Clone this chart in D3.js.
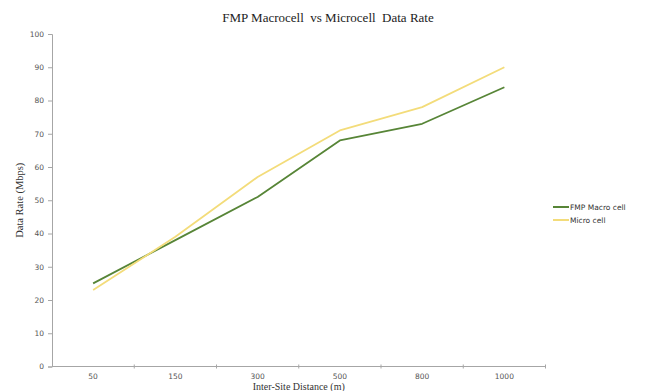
<!DOCTYPE html>
<html>
<head>
<meta charset="utf-8">
<script src="https://cdn.jsdelivr.net/npm/d3@7"></script>
<style>
  html, body { margin: 0; padding: 0; background: #fff; }
  svg { display: block; }
</style>
</head>
<body>
<svg id="chart" width="651" height="391"></svg>
<script>
// Inter-site distances (m) and data rates (Mbps)
const distances = ["50", "150", "300", "500", "800", "1000"];
const macroRate = [25, 38, 51, 68, 73, 84];
const microRate = [23, 39, 57, 71, 78, 90];
const yTicks = [0, 10, 20, 30, 40, 50, 60, 70, 80, 90, 100];
const seriesNames = ["FMP Macro cell", "Micro cell"];
const seriesColors = ["#578537", "#f3dc7a"];

const svg = d3.select("#chart");
const margin = { left: 52, right: 105.5, top: 34, bottom: 24.5 };
const W = 651, H = 391;

const x = d3.scaleBand()
  .domain(distances)
  .range([margin.left, W - margin.right]);
const y = d3.scaleLinear()
  .domain([0, 100])
  .range([H - margin.bottom, margin.top]);

const axisColor = "#a6a6a6";
const tickFont = "'DejaVu Sans', sans-serif";
const serif = "'Liberation Serif', 'Times New Roman', serif";

// Y axis
const yAxis = svg.append("g")
  .attr("transform", `translate(${margin.left},0)`)
  .call(d3.axisLeft(y).tickValues(yTicks).tickSize(4).tickPadding(4).tickFormat(d3.format("d")));
yAxis.select(".domain").attr("stroke", axisColor);
yAxis.selectAll(".tick line").attr("stroke", axisColor);
yAxis.selectAll(".tick text")
  .attr("fill", "#555").style("font-family", tickFont).style("font-size", "7.5px");

// X axis: tick marks on band edges, labels on band centres
const xAxisG = svg.append("g")
  .attr("transform", `translate(0,${y(0)})`);
xAxisG.append("line")
  .attr("x1", x.range()[0]).attr("x2", x.range()[1])
  .attr("stroke", axisColor);
const edges = distances.map(d => x(d)).concat([x.range()[1]]);
xAxisG.selectAll("line.edge")
  .data(edges.slice(1))
  .join("line")
  .attr("class", "edge")
  .attr("x1", d => d).attr("x2", d => d)
  .attr("y1", -2).attr("y2", 2)
  .attr("stroke", axisColor);
xAxisG.selectAll("text")
  .data(distances)
  .join("text")
  .attr("x", d => x(d) + x.bandwidth() / 2)
  .attr("y", 12.5)
  .attr("text-anchor", "middle")
  .attr("fill", "#555")
  .style("font-family", tickFont)
  .style("font-size", "7.5px")
  .text(d => d);

// Lines
const line = d3.line()
  .x((d, i) => x(distances[i]) + x.bandwidth() / 2)
  .y(d => y(d));
[macroRate, microRate].forEach((vals, k) => {
  svg.append("path")
    .datum(vals)
    .attr("fill", "none")
    .attr("stroke", seriesColors[k])
    .attr("stroke-width", 1.8)
    .attr("stroke-linejoin", "round")
    .attr("d", line);
});

// Title
svg.append("text")
  .attr("x", 328).attr("y", 22)
  .attr("text-anchor", "middle")
  .attr("fill", "#222")
  .style("font-family", serif)
  .style("font-size", "13px")
  .style("white-space", "pre")
  .text("FMP Macrocell  vs Microcell  Data Rate");

// Axis titles
svg.append("text")
  .attr("transform", `translate(23,${(y(0) + y(100)) / 2}) rotate(-90)`)
  .attr("text-anchor", "middle")
  .attr("fill", "#333")
  .style("font-family", serif)
  .style("font-size", "10.5px")
  .text("Data Rate (Mbps)");
svg.append("text")
  .attr("x", (x.range()[0] + x.range()[1]) / 2)
  .attr("y", 389.5)
  .attr("text-anchor", "middle")
  .attr("fill", "#333")
  .style("font-family", serif)
  .style("font-size", "10px")
  .text("Inter-Site Distance (m)");

// Legend
const legend = svg.append("g").attr("transform", "translate(553,207)");
seriesNames.forEach((name, k) => {
  const g = legend.append("g").attr("transform", `translate(0,${k * 13})`);
  g.append("line").attr("x1", 0).attr("x2", 16)
    .attr("stroke", seriesColors[k]).attr("stroke-width", 2);
  g.append("text").attr("x", 17).attr("y", 3)
    .attr("fill", "#333")
    .style("font-family", tickFont)
    .style("font-size", "7.5px")
    .text(name);
});
</script>
</body>
</html>
